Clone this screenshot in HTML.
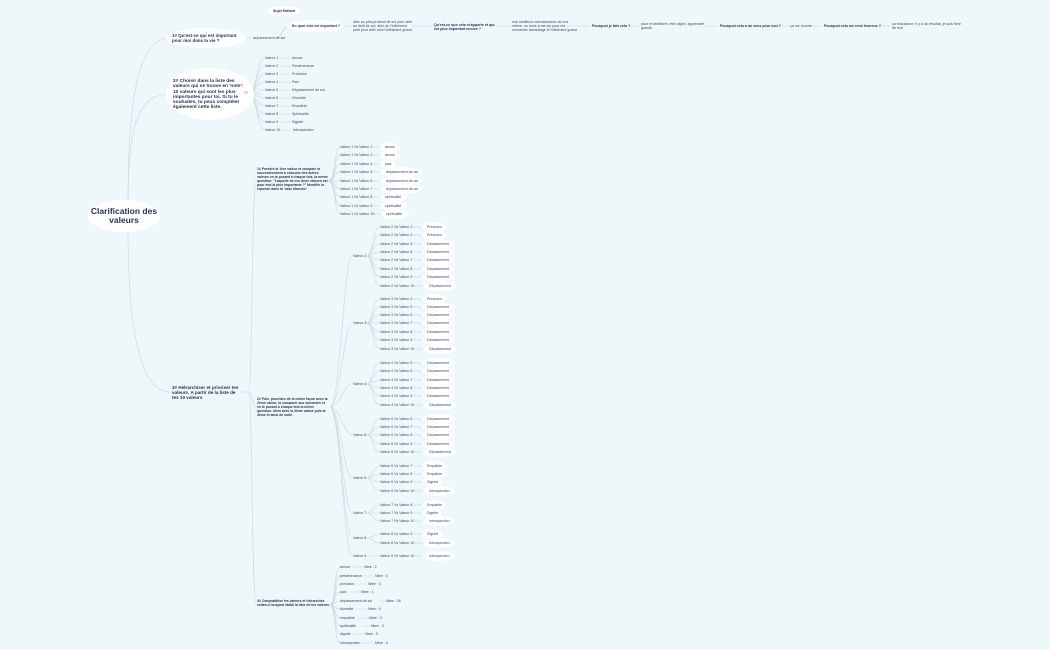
<!DOCTYPE html>
<html><head><meta charset="utf-8"><style>
html,body{margin:0;padding:0;}
body{width:1050px;height:650px;background:#eef7fa;position:relative;overflow:hidden;font-family:"Liberation Sans",sans-serif;color:#3b4a60;}
.t{position:absolute;font-size:3.6px;white-space:nowrap;line-height:4.2px;}
.b{font-weight:bold;color:#27344d;}
.p{position:absolute;background:#fff;border-radius:50%;}
.w{white-space:normal;}
svg{position:absolute;left:0;top:0;}
</style></head><body>
<svg width="1050" height="650" fill="none" stroke="#c8d8df" stroke-width="0.6">
<path d="M128 203 C128 90 140 38 170 38"/>
<path d="M128 203 C128 120 140 94 170 94"/>
<path d="M128 229 C128 330 140 392 170 392"/>
<path d="M244 38 L252 38"/>
<path d="M276 38 C282 38 282 26 290 26" stroke="#a9d2ea"/>
<path d="M340 26 L352 26"/><path d="M412 26 L433 26" stroke="#a9d2ea"/><path d="M490 26 L511 26"/><path d="M566 26 L590 26" stroke="#a9d2ea"/><path d="M630 26 L640 26"/><path d="M706 26 L718 26"/><path d="M778 26 L789 26"/><path d="M808 26 L822 26"/><path d="M880 26 L891 26"/>
<path d="M252 94 L262 94"/>
<g>
<path d="M249 94 C257 94 256 58 265 58"/><path d="M249 94 C257 94 256 66 265 66"/><path d="M249 94 C257 94 256 74 265 74"/><path d="M249 94 C257 94 256 82 265 82"/><path d="M249 94 C257 94 256 90 265 90"/><path d="M249 94 C257 94 256 98 265 98"/><path d="M249 94 C257 94 256 106 265 106"/><path d="M249 94 C257 94 256 114 265 114"/><path d="M249 94 C257 94 256 122 265 122"/><path d="M249 94 C257 94 256 130 265 130"/>
<path d="M279 58h12M279 66h12M279 74h12M279 82h12M279 90h12M279 98h12M279 106h12M279 114h12M279 122h12M281 130h11"/>
</g>
<path d="M240 392 L249 392"/>
<path d="M249 392 C252 392 252 181 256 181"/><path d="M249 392 C252 392 252 407 256 407"/><path d="M249 392 C252 392 252 605 256 605"/>
<g>
<path d="M328 181 C336 181 334 147 340 147"/><path d="M328 181 C336 181 334 155 340 155"/><path d="M328 181 C336 181 334 164 340 164"/><path d="M328 181 C336 181 334 172 340 172"/><path d="M328 181 L340 181"/><path d="M328 181 C336 181 334 189 340 189"/><path d="M328 181 C336 181 334 197 340 197"/><path d="M328 181 C336 181 334 206 340 206"/><path d="M328 181 C336 181 334 214 340 214"/>
</g>
<g>
<path d="M330 407 C340 407 344 256 352 256"/><path d="M330 407 C340 407 344 323 352 323"/><path d="M330 407 C340 407 344 384 352 384"/><path d="M330 407 C340 407 344 435 352 435"/><path d="M330 407 C340 407 344 478 352 478"/><path d="M330 407 C340 407 344 513 352 513"/><path d="M330 407 C340 407 344 538 352 538"/><path d="M330 407 C340 407 344 556 352 556"/>
</g>
<g>
<path d="M366 256 C374 256 372 227 380 227"/><path d="M366 256 C374 256 372 235 380 235"/><path d="M366 256 C374 256 372 244 380 244"/><path d="M366 256 C374 256 372 252 380 252"/><path d="M366 256 C374 256 372 260 380 260"/><path d="M366 256 C374 256 372 269 380 269"/><path d="M366 256 C374 256 372 277 380 277"/><path d="M366 256 C374 256 372 286 380 286"/>
<path d="M366 323 C374 323 372 299 380 299"/><path d="M366 323 C374 323 372 307 380 307"/><path d="M366 323 C374 323 372 315 380 315"/><path d="M366 323 L380 323"/><path d="M366 323 C374 323 372 332 380 332"/><path d="M366 323 C374 323 372 340 380 340"/><path d="M366 323 C374 323 372 349 380 349"/>
<path d="M366 384 C374 384 372 363 380 363"/><path d="M366 384 C374 384 372 371 380 371"/><path d="M366 384 L380 380"/><path d="M366 384 C374 384 372 388 380 388"/><path d="M366 384 C374 384 372 396 380 396"/><path d="M366 384 C374 384 372 405 380 405"/>
<path d="M366 435 C374 435 372 419 380 419"/><path d="M366 435 C374 435 372 427 380 427"/><path d="M366 435 L380 435"/><path d="M366 435 C374 435 372 444 380 444"/><path d="M366 435 C374 435 372 452 380 452"/>
<path d="M366 478 C374 478 372 466 380 466"/><path d="M366 478 C374 478 372 474 380 474"/><path d="M366 478 C374 478 372 482 380 482"/><path d="M366 478 C374 478 372 491 380 491"/>
<path d="M366 513 C374 513 372 505 380 505"/><path d="M366 513 L380 513"/><path d="M366 513 C374 513 372 521 380 521"/>
<path d="M366 538 C374 538 372 534 380 534"/><path d="M366 538 C374 538 372 543 380 543"/>
<path d="M366 556 L380 556"/>
</g>
<g>
<path d="M330 605 C336 605 334 567 340 567"/><path d="M330 605 C336 605 334 576 340 576"/><path d="M330 605 C336 605 334 584 340 584"/><path d="M330 605 C336 605 334 592 340 592"/><path d="M330 605 C336 605 334 601 340 601"/><path d="M330 605 C336 605 334 609 340 609"/><path d="M330 605 C336 605 334 618 340 618"/><path d="M330 605 C336 605 334 626 340 626"/><path d="M330 605 C336 605 334 634 340 634"/><path d="M330 605 C336 605 334 643 340 643"/>
<path d="M352 567h11M362 576h12M356 584h10M350 592h10M380 601h12M356 609h11M357 618h11M363 626h12M353 634h11M361 643h13"/>
</g>
<g stroke="#a9d2ea">
<path d="M373 147h8M373 155h8M373 164h8M373 172h8M373 181h8M373 189h8M373 197h8M373 206h8M374 214h8"/>
<path d="M413 227h9M413 235h9M413 244h9M413 252h9M413 260h9M413 269h9M413 277h9M415 286h9"/>
<path d="M413 299h9M413 307h9M413 315h9M413 323h9M413 332h9M413 340h9M415 349h9"/>
<path d="M413 363h9M413 371h9M413 380h9M413 388h9M413 396h9M415 405h9"/>
<path d="M413 419h9M413 427h9M413 435h9M413 444h9M415 452h9"/>
<path d="M413 466h9M413 474h9M413 482h9M415 491h9M413 505h9M413 513h9M415 521h9M413 534h9M415 543h9M415 556h9"/>
</g>
</svg>

<div class="p" style="left:88px;top:200px;width:72px;height:32px;"></div>
<div class="t b" style="left:90px;top:207px;width:68px;font-size:8.5px;line-height:9px;text-align:center;white-space:normal;">Clarification des valeurs</div>

<div class="p" style="left:166px;top:28px;width:80px;height:20px;"></div>
<div class="t b w" style="left:172px;top:33px;width:74px;font-size:4.5px;line-height:5.4px;">1# Qu'est-ce qui est important pour moi dans la vie ?</div>
<div class="p" style="left:166px;top:68px;width:88px;height:52px;"></div>
<div class="t b w" style="left:173px;top:79px;width:76px;font-size:4.8px;line-height:5.3px;">2# Choisir dans la liste des valeurs qui se trouve en 'note': 10 valeurs qui sont les plus importantes pour toi. Si tu le souhaites, tu peux compléter également cette liste.</div>
<div class="t b w" style="left:172px;top:385px;width:70px;font-size:4.6px;line-height:5.2px;">3# Hiérarchiser et prioriser tes valeurs. A partir de la liste de tes 10 valeurs</div>

<div class="p" style="left:268px;top:6px;width:32px;height:10px;"></div>
<div class="t b" style="left:273px;top:9px;">Sujet flottant</div>
<div class="t" style="left:253px;top:36px;">dépassement de soi</div>
<div class="p" style="left:287px;top:20px;width:56px;height:12px;"></div>
<div class="t b" style="left:292px;top:24px;">En quoi cela est important ?</div>
<div class="t w" style="left:353px;top:20px;width:60px;">aller au plus profond de soi pour aller au delà de soi, aller de l'infiniment petit pour aller vers l'infiniment grand</div>
<div class="t b w" style="left:434px;top:23px;width:64px;">Qu'est-ce que cela m'apporte et qui est plus important encore ?</div>
<div class="t w" style="left:512px;top:20px;width:66px;">une meilleure connaissance de moi même, un sens à ma vie pour me connecter davantage à l'infiniment grand</div>
<div class="t b" style="left:592px;top:24px;">Pourquoi je fais cela ?</div>
<div class="t w" style="left:641px;top:22px;width:66px;">pour m'améliorer, être digne, apprendre, grandir</div>
<div class="t b" style="left:720px;top:24px;">Pourquoi cela a du sens pour moi ?</div>
<div class="t" style="left:790px;top:24px;">ça me touche</div>
<div class="t b" style="left:824px;top:24px;">Pourquoi cela me rend heureux ?</div>
<div class="t w" style="left:892px;top:22px;width:72px;">ça fonctionne. Il y a du résultat, je suis fière de moi</div>

<div class="t" style="left:244px;top:91px;">??</div>
<div class="t" style="left:265px;top:56px;">Valeur 1</div><div class="t" style="left:292px;top:56px;">Amour</div>
<div class="t" style="left:265px;top:64px;">Valeur 2</div><div class="t" style="left:292px;top:64px;">Persévérance</div>
<div class="t" style="left:265px;top:72px;">Valeur 3</div><div class="t" style="left:292px;top:72px;">Précision</div>
<div class="t" style="left:265px;top:80px;">Valeur 4</div><div class="t" style="left:292px;top:80px;">Paix</div>
<div class="t" style="left:265px;top:88px;">Valeur 5</div><div class="t" style="left:292px;top:88px;">Dépassement de soi</div>
<div class="t" style="left:265px;top:96px;">Valeur 6</div><div class="t" style="left:292px;top:96px;">Diversité</div>
<div class="t" style="left:265px;top:104px;">Valeur 7</div><div class="t" style="left:292px;top:104px;">Empathie</div>
<div class="t" style="left:265px;top:112px;">Valeur 8</div><div class="t" style="left:292px;top:112px;">Spiritualité</div>
<div class="t" style="left:265px;top:120px;">Valeur 9</div><div class="t" style="left:292px;top:120px;">Dignité</div>
<div class="t" style="left:265px;top:128px;">Valeur 10</div><div class="t" style="left:293px;top:128px;">Introspection</div>

<div class="t b w" style="left:257px;top:167px;width:72px;font-size:3.4px;line-height:4.1px;">1# Prendre la 1ère valeur et compare la successivement à chacune des autres valeurs en te posant à chaque fois, la même question: "Laquelle de ces deux valeurs est pour moi la plus importante ?" Identifie la réponse dans la 'case blanche'</div>
<div class="t b w" style="left:257px;top:397px;width:72px;font-size:3.4px;line-height:4.1px;">2# Puis, procèdes de la même façon avec la 2ème valeur, la comparer aux suivantes et en te posant à chaque fois la même question. Idem avec la 3ème valeur puis la 4ème et ainsi de suite.</div>
<div class="t b w" style="left:257px;top:599px;width:72px;font-size:3.4px;line-height:4.1px;">3# Comptabilise les valeurs et hiérarchise celles-ci ta ayant établi la liste de tes valeurs</div>

<div class="p" style="left:380px;top:143px;width:20px;height:9px;"></div><div class="p" style="left:380px;top:151px;width:20px;height:9px;"></div><div class="p" style="left:380px;top:160px;width:16px;height:9px;"></div>
<div class="p" style="left:380px;top:167px;width:42px;height:10px;"></div><div class="p" style="left:380px;top:176px;width:42px;height:10px;"></div><div class="p" style="left:380px;top:184px;width:42px;height:10px;"></div>
<div class="p" style="left:380px;top:193px;width:27px;height:9px;"></div><div class="p" style="left:380px;top:201px;width:27px;height:9px;"></div><div class="p" style="left:381px;top:209px;width:28px;height:10px;"></div>
<div class="t" style="left:340px;top:145px;">Valeur 1 Vs Valeur 2</div><div class="t" style="left:385px;top:145px;">amour</div>
<div class="t" style="left:340px;top:153px;">Valeur 1 Vs Valeur 3</div><div class="t" style="left:385px;top:153px;">amour</div>
<div class="t" style="left:340px;top:162px;">Valeur 1 Vs Valeur 4</div><div class="t" style="left:385px;top:162px;">paix</div>
<div class="t" style="left:340px;top:170px;">Valeur 1 Vs Valeur 5</div><div class="t" style="left:386px;top:170px;">dépassement de soi</div>
<div class="t" style="left:340px;top:179px;">Valeur 1 Vs Valeur 6</div><div class="t" style="left:386px;top:179px;">dépassement de soi</div>
<div class="t" style="left:340px;top:187px;">Valeur 1 Vs Valeur 7</div><div class="t" style="left:386px;top:187px;">dépassement de soi</div>
<div class="t" style="left:340px;top:195px;">Valeur 1 Vs Valeur 8</div><div class="t" style="left:385px;top:195px;">spiritualité</div>
<div class="t" style="left:340px;top:204px;">Valeur 1 Vs Valeur 9</div><div class="t" style="left:385px;top:204px;">spiritualité</div>
<div class="t" style="left:340px;top:212px;">Valeur 1 Vs Valeur 10</div><div class="t" style="left:386px;top:212px;">spiritualité</div>

<div class="t" style="left:353px;top:254px;">Valeur 2</div>
<div class="t" style="left:353px;top:321px;">Valeur 3</div>
<div class="t" style="left:353px;top:382px;">Valeur 4</div>
<div class="t" style="left:353px;top:433px;">Valeur 5</div>
<div class="t" style="left:353px;top:476px;">Valeur 6</div>
<div class="t" style="left:353px;top:511px;">Valeur 7</div>
<div class="t" style="left:353px;top:536px;">Valeur 8</div>
<div class="t" style="left:353px;top:554px;">Valeur 9</div>

<div class="p" style="left:422px;top:222px;width:24px;height:10px;"></div><div class="p" style="left:422px;top:230px;width:24px;height:10px;"></div>
<div class="p" style="left:422px;top:239px;width:32px;height:10px;"></div><div class="p" style="left:422px;top:247px;width:32px;height:10px;"></div><div class="p" style="left:422px;top:255px;width:32px;height:10px;"></div><div class="p" style="left:422px;top:264px;width:32px;height:10px;"></div><div class="p" style="left:422px;top:272px;width:32px;height:10px;"></div><div class="p" style="left:423px;top:281px;width:34px;height:10px;"></div>
<div class="p" style="left:422px;top:294px;width:24px;height:10px;"></div>
<div class="p" style="left:422px;top:302px;width:32px;height:10px;"></div><div class="p" style="left:422px;top:310px;width:32px;height:10px;"></div><div class="p" style="left:422px;top:318px;width:32px;height:10px;"></div><div class="p" style="left:422px;top:327px;width:32px;height:10px;"></div><div class="p" style="left:422px;top:335px;width:32px;height:10px;"></div><div class="p" style="left:423px;top:344px;width:34px;height:10px;"></div>
<div class="p" style="left:422px;top:358px;width:32px;height:10px;"></div><div class="p" style="left:422px;top:366px;width:32px;height:10px;"></div><div class="p" style="left:422px;top:375px;width:32px;height:10px;"></div><div class="p" style="left:422px;top:383px;width:32px;height:10px;"></div><div class="p" style="left:422px;top:391px;width:32px;height:10px;"></div><div class="p" style="left:423px;top:400px;width:34px;height:10px;"></div>
<div class="p" style="left:422px;top:414px;width:32px;height:10px;"></div><div class="p" style="left:422px;top:422px;width:32px;height:10px;"></div><div class="p" style="left:422px;top:430px;width:32px;height:10px;"></div><div class="p" style="left:422px;top:439px;width:32px;height:10px;"></div><div class="p" style="left:423px;top:447px;width:34px;height:10px;"></div>
<div class="p" style="left:422px;top:461px;width:24px;height:10px;"></div><div class="p" style="left:422px;top:469px;width:24px;height:10px;"></div><div class="p" style="left:422px;top:477px;width:20px;height:10px;"></div><div class="p" style="left:423px;top:486px;width:32px;height:10px;"></div>
<div class="p" style="left:422px;top:500px;width:24px;height:10px;"></div><div class="p" style="left:422px;top:508px;width:20px;height:10px;"></div><div class="p" style="left:423px;top:516px;width:32px;height:10px;"></div>
<div class="p" style="left:422px;top:529px;width:20px;height:10px;"></div><div class="p" style="left:423px;top:538px;width:32px;height:10px;"></div>
<div class="p" style="left:423px;top:551px;width:32px;height:10px;"></div>

<div class="t" style="left:380px;top:225px;">Valeur 2 Vs Valeur 3</div><div class="t" style="left:427px;top:225px;">Précision</div>
<div class="t" style="left:380px;top:233px;">Valeur 2 Vs Valeur 4</div><div class="t" style="left:427px;top:233px;">Précision</div>
<div class="t" style="left:380px;top:242px;">Valeur 2 Vs Valeur 5</div><div class="t" style="left:427px;top:242px;">Dépassement</div>
<div class="t" style="left:380px;top:250px;">Valeur 2 Vs Valeur 6</div><div class="t" style="left:427px;top:250px;">Dépassement</div>
<div class="t" style="left:380px;top:258px;">Valeur 2 Vs Valeur 7</div><div class="t" style="left:427px;top:258px;">Dépassement</div>
<div class="t" style="left:380px;top:267px;">Valeur 2 Vs Valeur 8</div><div class="t" style="left:427px;top:267px;">Dépassement</div>
<div class="t" style="left:380px;top:275px;">Valeur 2 Vs Valeur 9</div><div class="t" style="left:427px;top:275px;">Dépassement</div>
<div class="t" style="left:380px;top:284px;">Valeur 2 Vs Valeur 10</div><div class="t" style="left:429px;top:284px;">Dépassement</div>

<div class="t" style="left:380px;top:297px;">Valeur 3 Vs Valeur 4</div><div class="t" style="left:427px;top:297px;">Précision</div>
<div class="t" style="left:380px;top:305px;">Valeur 3 Vs Valeur 5</div><div class="t" style="left:427px;top:305px;">Dépassement</div>
<div class="t" style="left:380px;top:313px;">Valeur 3 Vs Valeur 6</div><div class="t" style="left:427px;top:313px;">Dépassement</div>
<div class="t" style="left:380px;top:321px;">Valeur 3 Vs Valeur 7</div><div class="t" style="left:427px;top:321px;">Dépassement</div>
<div class="t" style="left:380px;top:330px;">Valeur 3 Vs Valeur 8</div><div class="t" style="left:427px;top:330px;">Dépassement</div>
<div class="t" style="left:380px;top:338px;">Valeur 3 Vs Valeur 9</div><div class="t" style="left:427px;top:338px;">Dépassement</div>
<div class="t" style="left:380px;top:347px;">Valeur 3 Vs Valeur 10</div><div class="t" style="left:429px;top:347px;">Dépassement</div>

<div class="t" style="left:380px;top:361px;">Valeur 4 Vs Valeur 5</div><div class="t" style="left:427px;top:361px;">Dépassement</div>
<div class="t" style="left:380px;top:369px;">Valeur 4 Vs Valeur 6</div><div class="t" style="left:427px;top:369px;">Dépassement</div>
<div class="t" style="left:380px;top:378px;">Valeur 4 Vs Valeur 7</div><div class="t" style="left:427px;top:378px;">Dépassement</div>
<div class="t" style="left:380px;top:386px;">Valeur 4 Vs Valeur 8</div><div class="t" style="left:427px;top:386px;">Dépassement</div>
<div class="t" style="left:380px;top:394px;">Valeur 4 Vs Valeur 9</div><div class="t" style="left:427px;top:394px;">Dépassement</div>
<div class="t" style="left:380px;top:403px;">Valeur 4 Vs Valeur 10</div><div class="t" style="left:429px;top:403px;">Dépassement</div>

<div class="t" style="left:380px;top:417px;">Valeur 5 Vs Valeur 6</div><div class="t" style="left:427px;top:417px;">Dépassement</div>
<div class="t" style="left:380px;top:425px;">Valeur 5 Vs Valeur 7</div><div class="t" style="left:427px;top:425px;">Dépassement</div>
<div class="t" style="left:380px;top:433px;">Valeur 5 Vs Valeur 8</div><div class="t" style="left:427px;top:433px;">Dépassement</div>
<div class="t" style="left:380px;top:442px;">Valeur 5 Vs Valeur 9</div><div class="t" style="left:427px;top:442px;">Dépassement</div>
<div class="t" style="left:380px;top:450px;">Valeur 5 Vs Valeur 10</div><div class="t" style="left:429px;top:450px;">Dépassement</div>

<div class="t" style="left:380px;top:464px;">Valeur 6 Vs Valeur 7</div><div class="t" style="left:427px;top:464px;">Empathie</div>
<div class="t" style="left:380px;top:472px;">Valeur 6 Vs Valeur 8</div><div class="t" style="left:427px;top:472px;">Empathie</div>
<div class="t" style="left:380px;top:480px;">Valeur 6 Vs Valeur 9</div><div class="t" style="left:427px;top:480px;">Dignité</div>
<div class="t" style="left:380px;top:489px;">Valeur 6 Vs Valeur 10</div><div class="t" style="left:429px;top:489px;">Introspection</div>

<div class="t" style="left:380px;top:503px;">Valeur 7 Vs Valeur 8</div><div class="t" style="left:427px;top:503px;">Empathie</div>
<div class="t" style="left:380px;top:511px;">Valeur 7 Vs Valeur 9</div><div class="t" style="left:427px;top:511px;">Dignité</div>
<div class="t" style="left:380px;top:519px;">Valeur 7 Vs Valeur 10</div><div class="t" style="left:429px;top:519px;">Introspection</div>

<div class="t" style="left:380px;top:532px;">Valeur 8 Vs Valeur 9</div><div class="t" style="left:427px;top:532px;">Dignité</div>
<div class="t" style="left:380px;top:541px;">Valeur 8 Vs Valeur 10</div><div class="t" style="left:429px;top:541px;">Introspection</div>

<div class="t" style="left:380px;top:554px;">Valeur 9 Vs Valeur 10</div><div class="t" style="left:429px;top:554px;">Introspection</div>

<div class="t" style="left:340px;top:565px;">amour</div><div class="t" style="left:364px;top:565px;">Nbre : 2</div>
<div class="t" style="left:340px;top:574px;">persévérance</div><div class="t" style="left:375px;top:574px;">Nbre : 0</div>
<div class="t" style="left:340px;top:582px;">précision</div><div class="t" style="left:368px;top:582px;">Nbre : 3</div>
<div class="t" style="left:340px;top:590px;">paix</div><div class="t" style="left:361px;top:590px;">Nbre : 1</div>
<div class="t" style="left:340px;top:599px;">dépassement de soi</div><div class="t" style="left:386px;top:599px;">Nbre : 26</div>
<div class="t" style="left:340px;top:607px;">diversité</div><div class="t" style="left:368px;top:607px;">Nbre : 0</div>
<div class="t" style="left:340px;top:616px;">empathie</div><div class="t" style="left:369px;top:616px;">Nbre : 3</div>
<div class="t" style="left:340px;top:624px;">spiritualité</div><div class="t" style="left:371px;top:624px;">Nbre : 3</div>
<div class="t" style="left:340px;top:632px;">dignité</div><div class="t" style="left:365px;top:632px;">Nbre : 3</div>
<div class="t" style="left:340px;top:641px;">introspection</div><div class="t" style="left:375px;top:641px;">Nbre : 4</div>
</body></html>
